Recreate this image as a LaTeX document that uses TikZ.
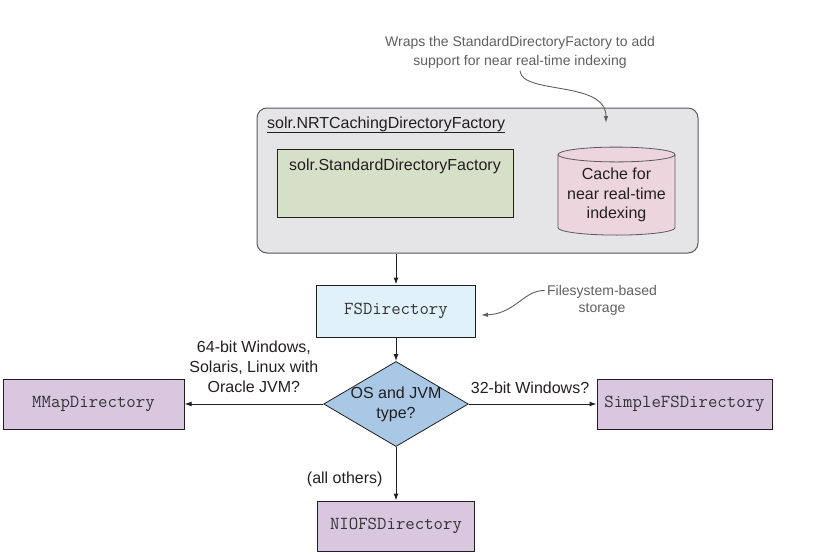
\documentclass[tikz,border=0pt]{standalone}
\usepackage{fontspec}
\setmainfont{Liberation Sans}
\usetikzlibrary{arrows.meta,shapes.geometric}

\definecolor{wrapgray}{HTML}{E5E5E7}
\definecolor{edgegray}{HTML}{5A5A5A}
\definecolor{stdgreen}{HTML}{D6E0C8}
\definecolor{cachepink}{HTML}{EDD5DE}
\definecolor{fsblue}{HTML}{E0F1F9}
\definecolor{choiceblue}{HTML}{A9C8E5}
\definecolor{dirpurple}{HTML}{D8C7DF}
\definecolor{notegray}{HTML}{5F5F5F}
\definecolor{inkblack}{HTML}{231F20}

\tikzset{
  flow/.style={-{Latex[length=7pt,width=5pt]}, line width=1pt, draw=inkblack},
  notearrow/.style={-{Latex[length=7pt,width=4.5pt]}, line width=0.9pt, draw=notegray},
  notetext/.style={text=notegray, inner sep=2pt, align=center},
  dirbox/.style={draw=inkblack, line width=1pt, minimum height=50pt, inner sep=0pt,
    text=black!80, font=\fontsize{18.3}{20}\ttfamily},
  labeltext/.style={text=inkblack, inner sep=2pt, align=center, font=\fontsize{16}{20}\selectfont},
}

\begin{document}
\begin{tikzpicture}[x=1pt,y=-1pt]
  \useasboundingbox (0,0) rectangle (840,554);

  \node[draw=edgegray, line width=1pt, fill=wrapgray, rounded corners=10pt,
    minimum width=441pt, minimum height=145pt] (nrt) at (477.5,180.5) {};
  \node[anchor=base west, inner sep=0pt, text=inkblack, font=\fontsize{16}{19}\selectfont]
    (nrttitle) at (267,128) {solr.NRTCachingDirectoryFactory};
  \draw[line width=1pt, inkblack] ([yshift=-4pt]nrttitle.base west) -- ([yshift=-4pt]nrttitle.base east);

  \node[draw=inkblack, line width=1pt, fill=stdgreen, minimum width=236pt, minimum height=68pt]
    (std) at (395,183) {};
  \node[anchor=base, inner sep=0pt, text=inkblack, font=\fontsize{16}{19}\selectfont]
    (stdtitle) at (395,170) {solr.StandardDirectoryFactory};

  \node[cylinder, shape border rotate=90, shape aspect=0.15, draw=edgegray, line width=0.8pt,
    fill=cachepink, minimum width=117pt, minimum height=88pt, inner sep=0pt, align=center,
    text=inkblack, font=\fontsize{16}{19.5}\selectfont] (cache) at (616.5,195)
    {Cache for\\near real-time\\indexing};

  \node[notetext, font=\fontsize{14}{19}\selectfont] (wrapnote) at (520,52.6)
    {Wraps the StandardDirectoryFactory to add\\support for near real-time indexing};
  \coordinate (cachetip) at (606,123);
  \draw[notearrow] (wrapnote.south) .. controls (522,95) and (606,80) .. (cachetip);

  \node[dirbox, fill=fsblue, minimum width=159pt, minimum height=52pt] (fsdir) at (396,311) {FSDirectory};
  \node[notetext, font=\fontsize{14}{16.7}\selectfont] (fsnote) at (602,300.7) {Filesystem-based\\storage};
  \draw[notearrow] ([yshift=10pt]fsnote.west) .. controls (525,289) and (515,314) .. ([shift={(5pt,-4pt)}]fsdir.east);

  \node[diamond, draw=inkblack, line width=0.8pt, fill=choiceblue, aspect=1.7, inner sep=-1pt,
    align=center, text=inkblack, font=\fontsize{16}{20}\selectfont] (os) at (396,404) {OS and JVM\\type?};

  \node[dirbox, fill=dirpurple, minimum width=181pt] (mmap) at (93.5,404) {MMapDirectory};
  \node[dirbox, fill=dirpurple, minimum width=175pt] (simple) at (684.5,404) {SimpleFSDirectory};
  \node[dirbox, fill=dirpurple, minimum width=157pt] (nio) at (396,526) {NIOFSDirectory};

  \draw[flow] (fsdir.north |- nrt.south) -- (fsdir.north);
  \draw[flow] (fsdir.south) -- (os.north);
  \draw[flow] (os.west) -- (mmap.east)
    node[labeltext, midway, above=8.5pt] {64-bit Windows,\\Solaris, Linux with\\Oracle JVM?};
  \draw[flow] (os.east) -- (simple.west)
    node[labeltext, pos=0.48, above=8pt] {32-bit Windows?};
  \draw[flow] (os.south) -- (nio.north)
    node[labeltext, pos=0.6, left=11pt] {(all others)};
\end{tikzpicture}
\end{document}
